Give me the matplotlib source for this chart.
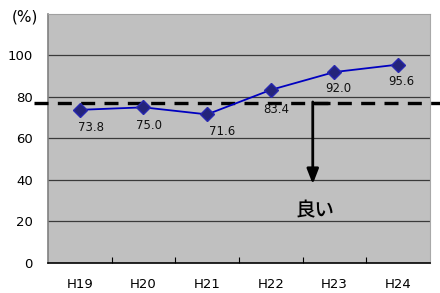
import matplotlib
matplotlib.use("Agg")
import matplotlib.pyplot as plt

plt.rcParams['font.family'] = ['DejaVu Sans', 'Noto Sans CJK JP']

categories = ["H19", "H20", "H21", "H22", "H23", "H24"]
values = [73.8, 75.0, 71.6, 83.4, 92.0, 95.6]
value_labels = ["73.8", "75.0", "71.6", "83.4", "92.0", "95.6"]
target = 77
arrow_end = 38
good_label = "良い"
yticks = [0, 20, 40, 60, 80, 100]

fig = plt.figure(figsize=(4.4, 2.93), dpi=100)
ax = fig.add_axes([0.109, 0.1024, 0.868, 0.850])
ax.set_facecolor("#c0c0c0")

x = list(range(len(categories)))
ax.set_xlim(-0.5, len(categories) - 0.5)
ax.set_ylim(0, 120)

for yv in yticks[1:]:
    ax.axhline(yv, color="#3a3a3a", lw=0.9, zorder=1)

ax.plot(x, values, color="#0000c0", lw=1.3, marker="D", markersize=7,
        markerfacecolor="#24247a", markeredgecolor="#2828b0", zorder=4)

label_dx = [8, 4, 11, 4, 3, 2]
label_dy = [-13, -13, -12, -14, -12, -12]
for xi, v, lab, dx, dy in zip(x, values, value_labels, label_dx, label_dy):
    ax.annotate(lab, (xi, v), xytext=(dx, dy), textcoords="offset points",
                ha="center", va="center", fontsize=8.5, color="#111111", zorder=5)

# target dashed line extending beyond the axes
ax.plot([-0.72, 5.7], [target, target], color="black", lw=2.4,
        linestyle=(0, (4.2, 2.8)), clip_on=False, zorder=3)

# arrow
ax.plot([3.66, 3.93], [target, target], color="black", lw=2.4, zorder=3, solid_capstyle="butt")
ax.annotate("", xy=(3.66, arrow_end), xytext=(3.66, target + 0.6),
            arrowprops=dict(arrowstyle="-|>,head_length=0.9,head_width=0.35",
                            color="black", lw=2.0, shrinkA=0, shrinkB=0), zorder=3)
ax.text(3.69, 25, good_label, ha="center", va="center", fontsize=14,
        family=['Noto Sans CJK JP'], weight="medium", color="black", zorder=5)

ax.set_yticks(yticks)
ax.set_yticklabels([str(t) for t in yticks], fontsize=9.5)
ax.tick_params(axis="y", length=0, pad=11)
ax.set_xticks([i + 0.5 for i in range(len(categories) - 1)], minor=False)
ax.set_xticklabels([""] * (len(categories) - 1))
ax.set_xticks(x, minor=True)
ax.set_xticklabels(categories, minor=True, fontsize=9.5)
ax.tick_params(axis="x", which="major", direction="in", length=4, color="black")
ax.tick_params(axis="x", which="minor", length=0, pad=11)

ax.spines["left"].set_color("#808080")
ax.spines["left"].set_linewidth(1.2)
ax.spines["bottom"].set_color("black")
ax.spines["bottom"].set_linewidth(1.2)
ax.spines["top"].set_color("#a0a0a0")
ax.spines["right"].set_color("#a8a8a8")

fig.text(0.057, 0.942, "(%)", ha="center", va="center", fontsize=11)

fig.savefig("out.png", dpi=100, facecolor="white")
